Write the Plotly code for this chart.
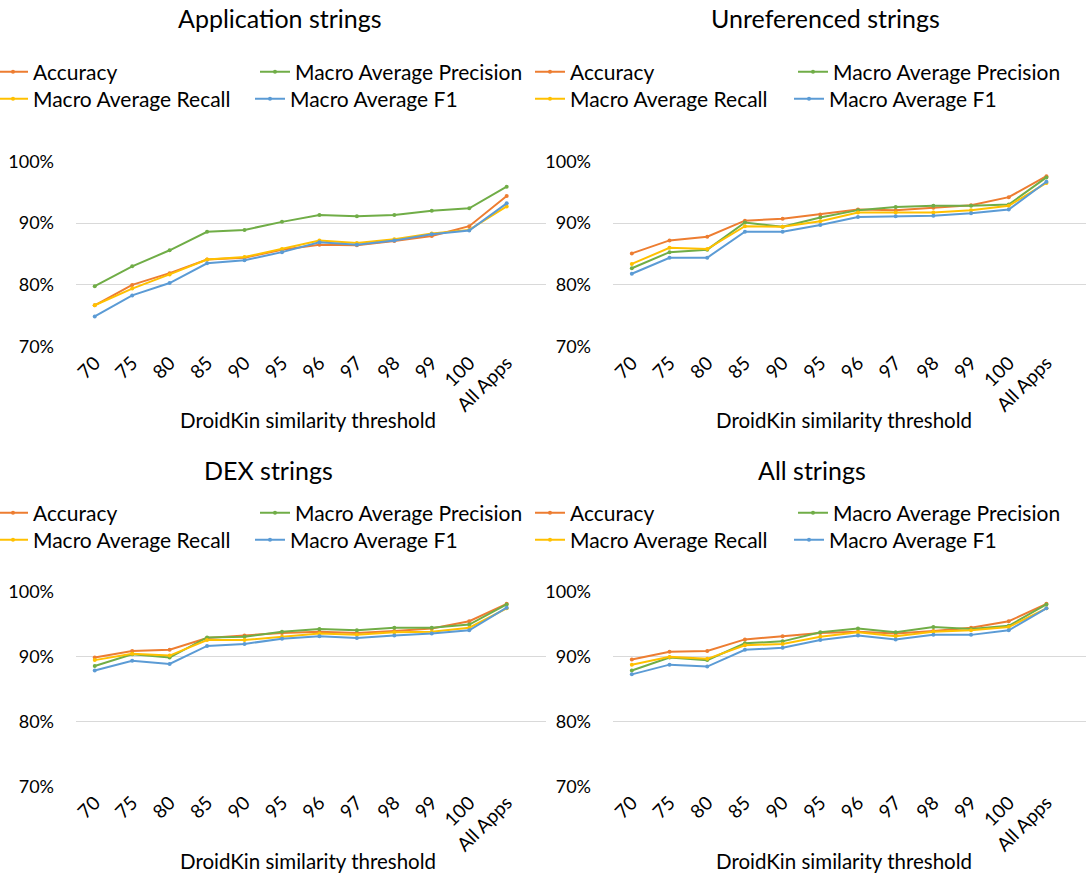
import plotly.graph_objects as go

W, H = 1086, 874

categories = ["70", "75", "80", "85", "90", "95", "96", "97", "98", "99", "100", "All Apps"]
series_names = ["Accuracy", "Macro Average Precision", "Macro Average Recall", "Macro Average F1"]
series_colors = ["#ED7D31", "#70AD47", "#FFC000", "#5B9BD5"]
panel_titles = ["Application strings", "Unreferenced strings", "DEX strings", "All strings"]
y_ticks = [70, 80, 90, 100]
y_tick_labels = ["70%", "80%", "90%", "100%"]

app_accuracy = [76.7, 80.0, 81.9, 84.1, 84.4, 85.7, 86.5, 86.4, 87.1, 87.9, 89.5, 94.4]
app_precision = [79.8, 83.0, 85.6, 88.6, 88.9, 90.2, 91.3, 91.1, 91.3, 92.0, 92.4, 95.9]
app_recall = [76.7, 79.4, 81.7, 84.1, 84.5, 85.8, 87.2, 86.8, 87.4, 88.3, 88.9, 92.7]
app_f1 = [74.9, 78.3, 80.3, 83.5, 84.0, 85.3, 86.9, 86.5, 87.2, 88.2, 88.8, 93.2]

unref_accuracy = [85.1, 87.2, 87.8, 90.4, 90.7, 91.4, 92.2, 92.1, 92.5, 92.9, 94.2, 97.6]
unref_precision = [82.7, 85.3, 85.7, 90.1, 89.4, 90.9, 92.1, 92.6, 92.8, 92.8, 93.0, 97.4]
unref_recall = [83.4, 86.0, 85.8, 89.5, 89.4, 90.3, 91.7, 91.7, 91.7, 92.1, 92.8, 96.5]
unref_f1 = [81.8, 84.4, 84.4, 88.6, 88.6, 89.7, 91.0, 91.1, 91.2, 91.6, 92.2, 96.7]

dex_accuracy = [89.9, 90.9, 91.1, 92.9, 93.3, 93.7, 93.9, 93.7, 94.0, 94.4, 95.5, 98.2]
dex_precision = [88.6, 90.4, 89.9, 93.0, 93.1, 93.9, 94.3, 94.1, 94.5, 94.5, 95.0, 98.1]
dex_recall = [89.5, 90.5, 90.2, 92.6, 92.6, 93.1, 93.6, 93.4, 93.8, 93.9, 94.5, 97.5]
dex_f1 = [87.9, 89.4, 88.9, 91.7, 92.0, 92.8, 93.2, 92.9, 93.3, 93.6, 94.1, 97.6]

all_accuracy = [89.6, 90.8, 90.9, 92.7, 93.2, 93.7, 93.9, 93.6, 94.0, 94.5, 95.5, 98.2]
all_precision = [87.9, 89.9, 89.5, 92.1, 92.4, 93.8, 94.4, 93.8, 94.6, 94.3, 94.8, 98.1]
all_recall = [88.8, 90.0, 89.7, 91.8, 92.0, 93.1, 93.8, 93.2, 93.9, 94.1, 94.6, 97.5]
all_f1 = [87.3, 88.8, 88.5, 91.1, 91.4, 92.6, 93.3, 92.7, 93.4, 93.4, 94.1, 97.5]

panels = [
    [app_accuracy, app_precision, app_recall, app_f1],
    [unref_accuracy, unref_precision, unref_recall, unref_f1],
    [dex_accuracy, dex_precision, dex_recall, dex_f1],
    [all_accuracy, all_precision, all_recall, all_f1],
]

FONT = "Lato"

# plot-area boxes in pixels (left, right, top, bottom)
boxes = [(76, 546, 160.7, 347.3), (613, 1086, 160.7, 347.3),
         (76, 546, 591.5, 787), (613, 1086, 591.5, 787)]
title_pos = [(280, 18), (825, 18), (268, 470), (812, 470)]
xtitle_pos = [(308, 420), (844, 420), (308, 861), (844, 861)]
# text start x for each series (Accuracy, Precision, Recall, F1)
legend_text_x = [(33, 295, 33, 290), (570, 833, 570, 829), (33, 295, 33, 290), (570, 833, 570, 829)]
legend_rows_y = [(72, 99), (72, 99), (513, 540), (513, 540)]
TEXT_GAP = 40

fig = go.Figure()
layout = dict(width=W, height=H,
              margin=dict(l=0, r=0, t=0, b=0, pad=0, autoexpand=False),
              paper_bgcolor="white", plot_bgcolor="white",
              font=dict(family=FONT, color="#000000"), annotations=[])

leg_idx = 0
for p, series in enumerate(panels):
    ax = "" if p == 0 else str(p + 1)
    l, r, t, b = boxes[p]
    layout["xaxis" + ax] = dict(
        domain=[l / W, r / W], anchor="y" + ax,
        type="linear", range=[-0.5, 12.05],
        tickmode="array", tickvals=list(range(len(categories))), ticktext=categories,
        tickangle=-45, tickfont=dict(size=19, family=FONT, color="#000"),
        showgrid=False, zeroline=False, showline=False, ticks="")
    layout["yaxis" + ax] = dict(
        domain=[1 - b / H, 1 - t / H], anchor="x" + ax,
        range=[69.9, 100.1], tickmode="array", tickvals=y_ticks, ticktext=y_tick_labels,
        tickfont=dict(size=18, family=FONT, color="#000"),
        showgrid=True, gridcolor="#D9D9D9", gridwidth=1,
        zeroline=False, showline=False, ticks="", ticklabelstandoff=21)
    for s in range(4):
        leg_name = "legend" if leg_idx == 0 else "legend" + str(leg_idx + 1)
        row = s // 2
        layout[leg_name] = dict(
            x=(legend_text_x[p][s] - TEXT_GAP) / W, xanchor="left",
            y=1 - legend_rows_y[p][row] / H, yanchor="middle",
            orientation="h", bgcolor="rgba(0,0,0,0)",
            font=dict(size=21, family=FONT, color="#000"),
            itemclick=False, itemdoubleclick=False, tracegroupgap=0)
        fig.add_trace(go.Scatter(
            x=list(range(len(categories))), y=series[s], name=series_names[s],
            mode="lines+markers",
            line=dict(color=series_colors[s], width=2),
            marker=dict(color=series_colors[s], size=4),
            xaxis="x" + ax, yaxis="y" + ax, legend=leg_name,
            showlegend=True))
        leg_idx += 1
    layout["annotations"].append(dict(
        text=panel_titles[p], x=title_pos[p][0] / W, y=1 - title_pos[p][1] / H,
        xref="paper", yref="paper", xanchor="center", yanchor="middle",
        showarrow=False, font=dict(size=25, family=FONT, color="#000")))
    layout["annotations"].append(dict(
        text="DroidKin similarity threshold", x=xtitle_pos[p][0] / W, y=1 - xtitle_pos[p][1] / H,
        xref="paper", yref="paper", xanchor="center", yanchor="middle",
        showarrow=False, font=dict(size=20.5, family=FONT, color="#000")))

fig.update_layout(**layout)
fig.write_html("out.html", config={"displayModeBar": False},
               post_script="document.body.style.margin='0';document.body.style.overflow='hidden';")
